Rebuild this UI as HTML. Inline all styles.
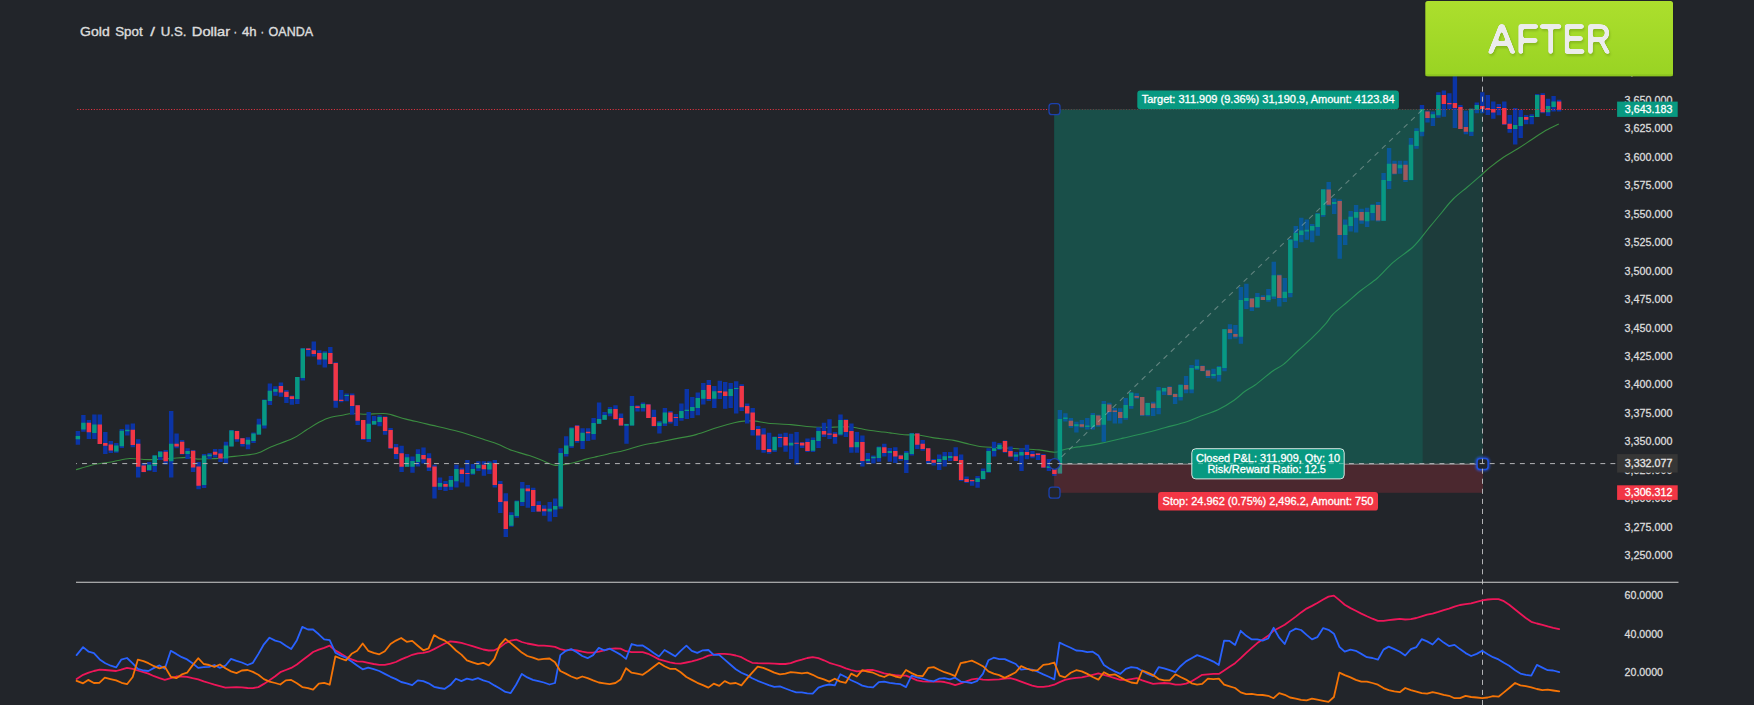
<!DOCTYPE html>
<html lang="en"><head><meta charset="utf-8"><title>Gold Spot / U.S. Dollar</title>
<style>html,body{margin:0;padding:0;background:#22252a;}body{width:1754px;height:705px;overflow:hidden;font-family:"Liberation Sans",sans-serif;}</style>
</head><body>
<svg width="1754" height="705" viewBox="0 0 1754 705" style="display:block">
<defs>
<linearGradient id="ag" x1="0" y1="0" x2="0" y2="1"><stop offset="0" stop-color="#acdf2d"/><stop offset="1" stop-color="#99d323"/></linearGradient>
<filter id="sh" x="-10%" y="-10%" width="120%" height="130%"><feGaussianBlur stdDeviation="1.2"/></filter>
<filter id="glow" x="-50%" y="-50%" width="200%" height="200%"><feGaussianBlur stdDeviation="1.3"/></filter>
<filter id="rnd" x="-5%" y="-15%" width="112%" height="135%" color-interpolation-filters="sRGB"><feGaussianBlur in="SourceGraphic" stdDeviation="1.25"/><feColorMatrix type="matrix" values="0 0 0 0 0.925  0 0 0 0 0.925  0 0 0 0 0.925  0 0 0 5 -2" result="r"/><feOffset in="r" dx="1" dy="2.2"/><feGaussianBlur stdDeviation="1.2"/><feColorMatrix type="matrix" values="0 0 0 0 0.37  0 0 0 0 0.54  0 0 0 0 0.06  0 0 0 0.4 0" result="s"/><feMerge><feMergeNode in="s"/><feMergeNode in="r"/></feMerge></filter>
<clipPath id="cl"><rect x="76" y="0" width="1541" height="705"/></clipPath>
<clipPath id="cl2"><rect x="1192.3" y="449" width="151.4" height="29.6"/></clipPath>
</defs>
<rect width="1754" height="705" fill="#22252a"/>
<text y="36.2" font-family="Liberation Sans, sans-serif" font-size="13" fill="#dcdcdc" stroke="#dcdcdc" stroke-width="0.4"><tspan x="80.1" textLength="29.6" lengthAdjust="spacingAndGlyphs">Gold</tspan> <tspan x="115.2" textLength="27.4" lengthAdjust="spacingAndGlyphs">Spot</tspan> <tspan x="150.3" textLength="4.7" lengthAdjust="spacingAndGlyphs">/</tspan> <tspan x="160.7" textLength="25.7" lengthAdjust="spacingAndGlyphs">U.S.</tspan> <tspan x="191.8" textLength="38.3" lengthAdjust="spacingAndGlyphs">Dollar</tspan> <tspan x="233.5" textLength="3.6" lengthAdjust="spacingAndGlyphs">·</tspan> <tspan x="241.9" textLength="14.6" lengthAdjust="spacingAndGlyphs">4h</tspan> <tspan x="260.5" textLength="3.6" lengthAdjust="spacingAndGlyphs">·</tspan> <tspan x="268.6" textLength="44.5" lengthAdjust="spacingAndGlyphs">OANDA</tspan></text>
<g font-family="Liberation Sans, sans-serif" font-size="11.4" fill="#dcdcdc" stroke="#dcdcdc" stroke-width="0.3"><text x="1624.6" y="103.8" textLength="47.8" lengthAdjust="spacingAndGlyphs">3,650.000</text><text x="1624.6" y="132.3" textLength="47.8" lengthAdjust="spacingAndGlyphs">3,625.000</text><text x="1624.6" y="160.8" textLength="47.8" lengthAdjust="spacingAndGlyphs">3,600.000</text><text x="1624.6" y="189.2" textLength="47.8" lengthAdjust="spacingAndGlyphs">3,575.000</text><text x="1624.6" y="217.7" textLength="47.8" lengthAdjust="spacingAndGlyphs">3,550.000</text><text x="1624.6" y="246.2" textLength="47.8" lengthAdjust="spacingAndGlyphs">3,525.000</text><text x="1624.6" y="274.6" textLength="47.8" lengthAdjust="spacingAndGlyphs">3,500.000</text><text x="1624.6" y="303.1" textLength="47.8" lengthAdjust="spacingAndGlyphs">3,475.000</text><text x="1624.6" y="331.5" textLength="47.8" lengthAdjust="spacingAndGlyphs">3,450.000</text><text x="1624.6" y="360" textLength="47.8" lengthAdjust="spacingAndGlyphs">3,425.000</text><text x="1624.6" y="388.4" textLength="47.8" lengthAdjust="spacingAndGlyphs">3,400.000</text><text x="1624.6" y="416.9" textLength="47.8" lengthAdjust="spacingAndGlyphs">3,375.000</text><text x="1624.6" y="445.4" textLength="47.8" lengthAdjust="spacingAndGlyphs">3,350.000</text><text x="1624.6" y="473.8" textLength="47.8" lengthAdjust="spacingAndGlyphs">3,325.000</text><text x="1624.6" y="502.3" textLength="47.8" lengthAdjust="spacingAndGlyphs">3,300.000</text><text x="1624.6" y="530.7" textLength="47.8" lengthAdjust="spacingAndGlyphs">3,275.000</text><text x="1624.6" y="559.2" textLength="47.8" lengthAdjust="spacingAndGlyphs">3,250.000</text></g><g font-family="Liberation Sans, sans-serif" font-size="11.4" fill="#dcdcdc" stroke="#dcdcdc" stroke-width="0.3"><text x="1624.6" y="599.3" textLength="38.4" lengthAdjust="spacingAndGlyphs">60.0000</text><text x="1624.6" y="637.8" textLength="38.4" lengthAdjust="spacingAndGlyphs">40.0000</text><text x="1624.6" y="676.2" textLength="38.4" lengthAdjust="spacingAndGlyphs">20.0000</text></g>
<!-- moving average + candles -->
<path d="M76 469.8C79 468.9 88 465.9 94.1 464.5C100.2 463.1 106.7 462.7 112.6 461.7C118.5 460.7 124.4 458.9 129.6 458.5C134.8 458.1 139.6 459.3 143.8 459.5C148.1 459.7 150.4 459.7 155.1 459.5C159.8 459.3 166.7 458.8 172.1 458.4C177.5 458 183.4 457.3 187.7 457.4C192 457.5 194.6 458.9 197.7 459.1C200.8 459.3 202.7 458.9 206.2 458.8C209.7 458.7 215.6 458.6 218.9 458.4C222.2 458.2 222.4 457.8 226 457.4C229.6 456.9 236.2 456.2 240.2 455.7C244.2 455.2 246.9 455.1 250 454.6C253.1 454.1 254.9 454.1 258.5 452.8C262.1 451.5 265.6 449.2 271.3 446.8C277 444.4 286.7 441.4 292.6 438.6C298.5 435.8 302 432.7 306.7 429.8C311.4 426.9 317.1 423.3 320.9 421.3C324.7 419.3 325.8 418.7 329.4 417.7C332.9 416.7 338.4 415.9 342.2 415.2C346 414.5 348.6 413.7 352.1 413.5C355.7 413.3 358.3 414.2 363.5 414.2C368.7 414.2 378.6 413.4 383.3 413.5C388 413.6 388 414 391.8 414.9C395.6 415.8 400.1 417.6 406 419.1C411.9 420.6 418.6 422 427.3 424.1C436 426.2 448.7 428.9 458.4 431.5C468.1 434.1 478.7 437.9 485.3 440C491.9 442.1 493.6 442.5 498.1 444.3C502.6 446.1 507.1 448.7 512.3 450.6C517.5 452.5 524.7 454.1 529.3 455.6C533.9 457.1 535.9 457.8 540 459.4C544.1 461 550.1 464.3 554.2 465.1C558.3 465.9 561.2 464.9 564.8 464.4C568.3 463.9 572 463.2 575.5 462.3C579 461.4 582.5 460.1 586 459.1C589.5 458.2 593.2 457.4 596.7 456.6C600.2 455.8 602.6 455.3 607.3 454.2C612 453.1 619.3 451.7 625.1 450.2C630.9 448.7 636.7 446.5 642.1 445.2C647.5 443.9 652.2 443.4 657.7 442.4C663.2 441.3 668.4 440.2 674.8 438.9C681.2 437.6 688.9 436.5 696 434.6C703.1 432.7 710.9 429.5 717.3 427.5C723.7 425.5 729.7 423.9 734.2 422.8C738.7 421.7 740.6 421.4 744.1 421.1C747.6 420.8 751.5 420.8 755.5 421.1C759.5 421.5 762.3 422.6 768.2 423.2C774.1 423.8 783.8 424 790.9 424.6C798 425.2 804.6 426.2 810.8 426.7C816.9 427.2 823.3 427.3 827.8 427.4C832.3 427.4 834.4 427.1 837.7 427C841 426.9 844.6 426.6 847.7 426.7C850.8 426.8 852.7 427.1 856.2 427.7C859.7 428.3 864.4 429.6 868.9 430.3C873.4 431 879.6 431.6 883.1 432C886.6 432.4 886.5 432.4 890 432.9C893.5 433.4 899.5 434.4 904.2 434.8C908.9 435.2 913.7 434.5 918.4 435C923.1 435.5 926.7 436.7 932.6 437.6C938.5 438.5 947.7 439.3 953.8 440.4C959.9 441.5 964.7 443.2 969.4 444.3C974.1 445.4 977.7 446.3 982.2 446.8C986.7 447.3 990.5 447.2 996.4 447.5C1002.3 447.8 1010.6 448.3 1017.7 448.7C1024.8 449.1 1032.8 449.3 1038.9 449.9C1045 450.5 1050.5 452.2 1054.5 452.2C1058.5 452.2 1059.7 450.7 1063 449.9C1066.3 449.1 1071.5 448.1 1074.4 447.5C1077.3 446.9 1077.9 447 1080.5 446.6C1083.1 446.2 1086.5 446 1090 445.4C1093.5 444.8 1096.2 444.3 1101.7 443.1C1107.2 441.9 1115.9 439.8 1123 438.1C1130.1 436.5 1137.2 435 1144.3 433.2C1151.4 431.4 1158.5 429.4 1165.6 427.5C1172.7 425.6 1180.9 423.7 1186.8 421.8C1192.7 419.9 1195.8 418.1 1201 416.1C1206.2 414.1 1212.5 412.4 1218 409.8C1223.5 407.2 1229.2 403.6 1233.7 400.5C1238.2 397.4 1241.4 393.9 1245 391.3C1248.6 388.7 1250.6 388.3 1255.1 385C1259.6 381.7 1267.4 374.9 1272.1 371.5C1276.8 368.1 1279.2 367.8 1283.5 364.4C1287.8 361 1293 355.4 1297.7 351C1302.4 346.6 1307.1 342.8 1311.8 338.2C1316.5 333.6 1322.5 327.3 1326 323.3C1329.5 319.3 1329.5 317.7 1333.1 314.1C1336.6 310.6 1342.6 306 1347.3 302C1352 298 1356.5 294 1361.5 290C1366.5 286 1372.2 282.6 1377.5 278C1382.8 273.4 1387.1 267.6 1393.1 262.4C1399.1 257.1 1407.7 252 1413.5 246.5C1419.3 241 1423 235.2 1427.7 229.5C1432.4 223.8 1437.5 217.6 1441.8 212.5C1446 207.4 1448.9 203.2 1453.2 199C1457.5 194.8 1462.4 191.2 1467.4 187C1472.4 182.8 1479.3 176.7 1483 173.5C1486.7 170.3 1485.9 170.6 1489.3 167.9C1492.7 165.2 1498.8 160.5 1503.5 157.3C1508.2 154.1 1513 151.8 1517.7 148.8C1522.4 145.8 1527.1 142.6 1531.8 139.5C1536.5 136.4 1541.5 132.9 1546 130.3C1550.5 127.7 1556.7 125 1558.8 123.9" fill="none" stroke="#3b8c40" stroke-width="1.1"/>
<path d="M75.7 430.9h4.4v13.8h-4.4zM81.2 415.1h4.4v16.7h-4.4zM86.7 420h4.4v19h-4.4zM92.2 414.4h4.4v24.5h-4.4zM97.6 414.4h4.4v29.5h-4.4zM103.1 431.9h4.4v22h-4.4zM108.6 441.1h4.4v11.8h-4.4zM114.1 442.9h4.4v9.9h-4.4zM119.6 429h4.4v19.1h-4.4zM125.1 424.4h4.4v11.1h-4.4zM130.6 423.4h4.4v23.8h-4.4zM136 439.3h4.4v38.3h-4.4zM141.5 463.1h4.4v9.2h-4.4zM147 462.1h4.4v8.8h-4.4zM152.5 455.3h4.4v16.7h-4.4zM158 451h4.4v8.9h-4.4zM163.5 450h4.4v14.5h-4.4zM169 410.9h4.4v66.7h-4.4zM174.4 433.6h4.4v14.6h-4.4zM179.9 440.1h4.4v14.5h-4.4zM185.4 448.2h4.4v10.9h-4.4zM190.9 450h4.4v22h-4.4zM196.4 462.1h4.4v27.2h-4.4zM201.9 453.9h4.4v34h-4.4zM207.4 452.9h4.4v6.2h-4.4zM212.9 448.9h4.4v8.5h-4.4zM218.3 448.9h4.4v13h-4.4zM223.8 441.8h4.4v22h-4.4zM229.3 430h4.4v16.3h-4.4zM234.8 430.7h4.4v11.1h-4.4zM240.3 438h4.4v8.4h-4.4zM245.8 437.3h4.4v11.9h-4.4zM251.3 432.6h4.4v10.4h-4.4zM256.7 418.8h4.4v15.9h-4.4zM262.2 399.5h4.4v29.1h-4.4zM267.7 383.5h4.4v21.4h-4.4zM273.2 386.3h4.4v9.4h-4.4zM278.7 382.5h4.4v14.2h-4.4zM284.2 390h4.4v13h-4.4zM289.7 395.6h4.4v9.2h-4.4zM295.1 377.1h4.4v27h-4.4zM300.6 348h4.4v32.6h-4.4zM306.1 348h4.4v8.5h-4.4zM311.6 341.4h4.4v15.2h-4.4zM317.1 350.3h4.4v14.5h-4.4zM322.6 351.3h4.4v16.3h-4.4zM328.1 347.1h4.4v17h-4.4zM333.5 362.2h4.4v45.5h-4.4zM339 390h4.4v12.3h-4.4zM344.5 393.4h4.4v7.9h-4.4zM350 393.4h4.4v21.4h-4.4zM355.5 404.9h4.4v20.1h-4.4zM361 419.9h4.4v20.1h-4.4zM366.5 412.1h4.4v29.8h-4.4zM371.9 415.9h4.4v8.9h-4.4zM377.4 415.3h4.4v10.9h-4.4zM382.9 416.3h4.4v18.4h-4.4zM388.4 428.1h4.4v20.9h-4.4zM393.9 444h4.4v14.9h-4.4zM399.4 445.7h4.4v26.2h-4.4zM404.9 453.9h4.4v12.8h-4.4zM410.3 456.5h4.4v16.3h-4.4zM415.8 449.2h4.4v17.2h-4.4zM421.3 447.5h4.4v16h-4.4zM426.8 453.2h4.4v17.7h-4.4zM432.3 464.8h4.4v33.6h-4.4zM437.8 477.6h4.4v12.5h-4.4zM443.3 481.1h4.4v9.9h-4.4zM448.7 475.9h4.4v14.2h-4.4zM454.2 464.8h4.4v22.7h-4.4zM459.7 467.7h4.4v14.9h-4.4zM465.2 460.1h4.4v26.4h-4.4zM470.7 464.1h4.4v10.6h-4.4zM476.2 461.3h4.4v9.6h-4.4zM481.7 461.3h4.4v14.5h-4.4zM487.2 461.3h4.4v12.8h-4.4zM492.6 460.1h4.4v27.4h-4.4zM498.1 481.1h4.4v31.9h-4.4zM503.6 493.2h4.4v43.7h-4.4zM509.1 512.3h4.4v14.5h-4.4zM514.6 500.6h4.4v17.2h-4.4zM520.1 482.1h4.4v23.8h-4.4zM525.6 485.1h4.4v22.6h-4.4zM531 487.8h4.4v24.1h-4.4zM536.5 501.3h4.4v10.4h-4.4zM542 505.2h4.4v10.6h-4.4zM547.5 502.1h4.4v19.4h-4.4zM553 498.6h4.4v18.3h-4.4zM558.5 448.2h4.4v60.6h-4.4zM564 436.3h4.4v20.3h-4.4zM569.4 427.2h4.4v20.9h-4.4zM574.9 425.1h4.4v17.7h-4.4zM580.4 428.2h4.4v20.9h-4.4zM585.9 428.2h4.4v12.8h-4.4zM591.4 418h4.4v21.8h-4.4zM596.9 402.4h4.4v21.6h-4.4zM602.4 411.9h4.4v8.2h-4.4zM607.8 407h4.4v9.2h-4.4zM613.3 405.2h4.4v14.9h-4.4zM618.8 413.6h4.4v12.1h-4.4zM624.3 423.7h4.4v20.1h-4.4zM629.8 396h4.4v29.6h-4.4zM635.3 405.2h4.4v6.4h-4.4zM640.8 402.4h4.4v9.2h-4.4zM646.2 404.1h4.4v13.9h-4.4zM651.7 409.8h4.4v16.6h-4.4zM657.2 421.1h4.4v12.5h-4.4zM662.7 407.9h4.4v18.2h-4.4zM668.2 410.9h4.4v12.6h-4.4zM673.7 414h4.4v12.1h-4.4zM679.2 403.4h4.4v17.4h-4.4zM684.6 388.9h4.4v30.1h-4.4zM690.1 397h4.4v21h-4.4zM695.6 392.5h4.4v22.7h-4.4zM701.1 383.1h4.4v21.3h-4.4zM706.6 380h4.4v20.9h-4.4zM712.1 386h4.4v22h-4.4zM717.6 380.7h4.4v18.2h-4.4zM723 382.1h4.4v26.7h-4.4zM728.5 383.1h4.4v24.8h-4.4zM734 381.3h4.4v32.2h-4.4zM739.5 384.2h4.4v26.7h-4.4zM745 403.6h4.4v20h-4.4zM750.5 408h4.4v27.5h-4.4zM756 426h4.4v23.8h-4.4zM761.4 428.2h4.4v24.5h-4.4zM766.9 432.8h4.4v20.9h-4.4zM772.4 436.4h4.4v15.5h-4.4zM777.9 433.8h4.4v13.5h-4.4zM783.4 432.8h4.4v19h-4.4zM788.9 433.8h4.4v25.2h-4.4zM794.4 432h4.4v32.6h-4.4zM799.9 442.1h4.4v6h-4.4zM805.3 438.4h4.4v13.5h-4.4zM810.8 437.4h4.4v14.5h-4.4zM816.3 427.2h4.4v20.9h-4.4zM821.8 422.8h4.4v14.2h-4.4zM827.3 419.2h4.4v19.9h-4.4zM832.8 432h4.4v11.8h-4.4zM838.3 414.4h4.4v21.1h-4.4zM843.7 419.2h4.4v17.9h-4.4zM849.2 423.6h4.4v29.1h-4.4zM854.7 432h4.4v20.7h-4.4zM860.2 435.5h4.4v30.9h-4.4zM865.7 453h4.4v9.9h-4.4zM871.2 455.5h4.4v8.1h-4.4zM876.7 446.6h4.4v15.2h-4.4zM882.1 443.8h4.4v12.8h-4.4zM887.6 448h4.4v13.8h-4.4zM893.1 447.3h4.4v15.6h-4.4zM898.6 454.7h4.4v6.1h-4.4zM904.1 451.1h4.4v22h-4.4zM909.6 432.9h4.4v22.7h-4.4zM915.1 432.9h4.4v16h-4.4zM920.5 440.1h4.4v10.6h-4.4zM926 448.2h4.4v15.6h-4.4zM931.5 459.1h4.4v6.5h-4.4zM937 454.6h4.4v15.3h-4.4zM942.5 452.1h4.4v14.3h-4.4zM948 452.1h4.4v8.9h-4.4zM953.5 447.2h4.4v13.8h-4.4zM958.9 454.6h4.4v26.5h-4.4zM964.4 476.6h4.4v6.4h-4.4zM969.9 479.4h4.4v6.4h-4.4zM975.4 475.9h4.4v11.8h-4.4zM980.9 468.4h4.4v11.1h-4.4zM986.4 448.2h4.4v24.5h-4.4zM991.9 441.8h4.4v14.6h-4.4zM997.3 443h4.4v7h-4.4zM1002.8 440.4h4.4v12.3h-4.4zM1008.3 446.4h4.4v10.8h-4.4zM1013.8 452.1h4.4v8.9h-4.4zM1019.3 448.2h4.4v22.7h-4.4zM1024.8 444.7h4.4v14.5h-4.4zM1030.3 451.1h4.4v7.1h-4.4zM1035.8 452.9h4.4v7.1h-4.4zM1041.2 453.9h4.4v14.2h-4.4zM1046.7 459.1h4.4v11.8h-4.4zM1052.2 462.4h4.4v13.5h-4.4zM1057.7 410h4.4v63.5h-4.4zM1063.2 413.3h4.4v8.2h-4.4zM1068.7 418h4.4v9.8h-4.4zM1074.2 421.8h4.4v10.6h-4.4zM1079.6 420.1h4.4v7.7h-4.4zM1085.1 418h4.4v11.6h-4.4zM1090.6 412.9h4.4v16.7h-4.4zM1096.1 414.7h4.4v12.1h-4.4zM1101.6 401h4.4v40.7h-4.4zM1107.1 402.7h4.4v18h-4.4zM1112.6 407.9h4.4v15.6h-4.4zM1118 408.3h4.4v15.2h-4.4zM1123.5 398.1h4.4v21.6h-4.4zM1129 392.3h4.4v16.5h-4.4zM1134.5 393.2h4.4v5.5h-4.4zM1140 397h4.4v19.1h-4.4zM1145.5 402.7h4.4v13.5h-4.4zM1151 401.7h4.4v14.2h-4.4zM1156.4 387.1h4.4v27.2h-4.4zM1161.9 387.8h4.4v7.1h-4.4zM1167.4 386.3h4.4v9.2h-4.4zM1172.9 393.4h4.4v10.6h-4.4zM1178.4 384.2h4.4v16.3h-4.4zM1183.9 376.1h4.4v17.1h-4.4zM1189.4 365.1h4.4v28.1h-4.4zM1194.8 359.5h4.4v10.4h-4.4zM1200.3 365.4h4.4v5.8h-4.4zM1205.8 369.8h4.4v8.1h-4.4zM1211.3 368.7h4.4v9.9h-4.4zM1216.8 366.1h4.4v15.3h-4.4zM1222.3 329h4.4v42.3h-4.4zM1227.8 324.3h4.4v14.9h-4.4zM1233.2 325.1h4.4v13.5h-4.4zM1238.7 287.1h4.4v56.7h-4.4zM1244.2 283.7h4.4v25.4h-4.4zM1249.7 297.9h4.4v13.1h-4.4zM1255.2 293h4.4v15h-4.4zM1260.7 295.2h4.4v4.7h-4.4zM1266.2 289h4.4v12.7h-4.4zM1271.6 261.7h4.4v37.3h-4.4zM1277.1 274.5h4.4v32.1h-4.4zM1282.6 278h4.4v24h-4.4zM1288.1 239h4.4v58.2h-4.4zM1293.6 226h4.4v22h-4.4zM1299.1 217.7h4.4v24.5h-4.4zM1304.6 219.4h4.4v20.3h-4.4zM1310 224.1h4.4v18.2h-4.4zM1315.5 213h4.4v22.8h-4.4zM1321 189.1h4.4v27.7h-4.4zM1326.5 182h4.4v23.7h-4.4zM1332 198.6h4.4v15.3h-4.4zM1337.5 199.4h4.4v59.4h-4.4zM1343 219.4h4.4v25.7h-4.4zM1348.5 211.1h4.4v20.4h-4.4zM1353.9 205h4.4v27.4h-4.4zM1359.4 208.8h4.4v15h-4.4zM1364.9 207.8h4.4v19.1h-4.4zM1370.4 204.3h4.4v16.3h-4.4zM1375.9 202.1h4.4v19.4h-4.4zM1381.4 173h4.4v47.7h-4.4zM1386.9 147.9h4.4v41.1h-4.4zM1392.3 160.7h4.4v13.9h-4.4zM1397.8 160.7h4.4v13h-4.4zM1403.3 160.7h4.4v21.3h-4.4zM1408.8 138.1h4.4v42.1h-4.4zM1414.3 128.2h4.4v20.6h-4.4zM1419.8 105.1h4.4v31.2h-4.4zM1425.3 110.7h4.4v11.8h-4.4zM1430.7 111.6h4.4v14.5h-4.4zM1436.2 92.3h4.4v25.5h-4.4zM1441.7 90.6h4.4v26.2h-4.4zM1447.2 93.2h4.4v15.9h-4.4zM1452.7 70.7h4.4v57.2h-4.4zM1458.2 105.1h4.4v23.8h-4.4zM1463.7 110.7h4.4v23.5h-4.4zM1469.1 108.8h4.4v27.2h-4.4zM1474.6 102.4h4.4v10.9h-4.4zM1480.1 92.3h4.4v21h-4.4zM1485.6 95.1h4.4v20h-4.4zM1491.1 101.5h4.4v17.2h-4.4zM1496.6 104.1h4.4v11.1h-4.4zM1502.1 101.5h4.4v23.5h-4.4zM1507.5 115.1h4.4v17.6h-4.4zM1513 107.9h4.4v36.6h-4.4zM1518.5 109.8h4.4v28.1h-4.4zM1524 115.1h4.4v9.1h-4.4zM1529.5 114.3h4.4v9.9h-4.4zM1535 94.1h4.4v22.7h-4.4zM1540.5 93.2h4.4v20.1h-4.4zM1545.9 98.8h4.4v17.3h-4.4zM1551.4 96h4.4v15.6h-4.4zM1556.9 99.8h4.4v11.8h-4.4z" fill="#0b34a6"/>
<path d="M75.7 436.1h4.4v3.1h-4.4zM81.2 422.7h4.4v6.7h-4.4zM92.2 424.4h4.4v8.7h-4.4zM114.1 445.4h4.4v6h-4.4zM119.6 430.7h4.4v15.6h-4.4zM125.1 429.8h4.4v1.4h-4.4zM147 464.8h4.4v5.1h-4.4zM152.5 455.6h4.4v10.4h-4.4zM158 451.7h4.4v5.2h-4.4zM169 443.7h4.4v17.6h-4.4zM185.4 451h4.4v3.1h-4.4zM201.9 455.6h4.4v29.5h-4.4zM207.4 454.6h4.4v1.7h-4.4zM223.8 445.4h4.4v13h-4.4zM229.3 430.5h4.4v15.9h-4.4zM245.8 439.8h4.4v4.8h-4.4zM251.3 433.6h4.4v7.5h-4.4zM256.7 424.4h4.4v10.1h-4.4zM262.2 400h4.4v25.4h-4.4zM267.7 390.7h4.4v10.2h-4.4zM273.2 388.9h4.4v2.8h-4.4zM295.1 377.1h4.4v22h-4.4zM300.6 348.5h4.4v29.5h-4.4zM322.6 352.7h4.4v6.8h-4.4zM344.5 394.9h4.4v1.1h-4.4zM366.5 423.7h4.4v15.3h-4.4zM371.9 420.9h4.4v3.5h-4.4zM377.4 417h4.4v5h-4.4zM404.9 457.2h4.4v9.5h-4.4zM410.3 461h4.4v5.7h-4.4zM415.8 453.9h4.4v8.1h-4.4zM437.8 483h4.4v3.8h-4.4zM448.7 480.1h4.4v6.7h-4.4zM454.2 469.1h4.4v12.1h-4.4zM470.7 469.1h4.4v4.7h-4.4zM476.2 464.8h4.4v3.5h-4.4zM487.2 462.7h4.4v6.7h-4.4zM509.1 514.9h4.4v10.9h-4.4zM514.6 501.3h4.4v14.6h-4.4zM520.1 488.5h4.4v13.5h-4.4zM547.5 508.8h4.4v2.6h-4.4zM553 506h4.4v3.5h-4.4zM558.5 453h4.4v53.6h-4.4zM564 445.5h4.4v8.5h-4.4zM569.4 428.2h4.4v18h-4.4zM580.4 432.8h4.4v8.2h-4.4zM591.4 423h4.4v10.9h-4.4zM596.9 419h4.4v4.7h-4.4zM602.4 415h4.4v4.7h-4.4zM607.8 409.1h4.4v4.5h-4.4zM624.3 424h4.4v1.7h-4.4zM629.8 406h4.4v19.4h-4.4zM640.8 404.1h4.4v3.8h-4.4zM657.2 422.6h4.4v3.5h-4.4zM662.7 412.6h4.4v10.9h-4.4zM679.2 410.9h4.4v7.1h-4.4zM684.6 409.8h4.4v1.1h-4.4zM690.1 407h4.4v4h-4.4zM695.6 398h4.4v9.9h-4.4zM701.1 389.9h4.4v8.9h-4.4zM712.1 391.3h4.4v7.5h-4.4zM728.5 388.9h4.4v7.1h-4.4zM734 388h4.4v0.9h-4.4zM772.4 437h4.4v13.2h-4.4zM788.9 442.8h4.4v2.8h-4.4zM810.8 439.9h4.4v10.9h-4.4zM816.3 431h4.4v9.9h-4.4zM838.3 419.9h4.4v14.6h-4.4zM854.7 442.1h4.4v5.2h-4.4zM865.7 459.1h4.4v2h-4.4zM871.2 456.8h4.4v1.4h-4.4zM876.7 447.3h4.4v10.6h-4.4zM887.6 450.9h4.4v2.1h-4.4zM904.1 452.8h4.4v7.2h-4.4zM909.6 433.6h4.4v20.3h-4.4zM937 458.9h4.4v3.1h-4.4zM942.5 456.3h4.4v3.7h-4.4zM948 456h4.4v2.1h-4.4zM975.4 478.3h4.4v3.7h-4.4zM980.9 470.9h4.4v8.2h-4.4zM986.4 451.1h4.4v21h-4.4zM991.9 448.2h4.4v2.8h-4.4zM997.3 444.7h4.4v4.3h-4.4zM1013.8 454.6h4.4v2.1h-4.4zM1019.3 452.1h4.4v3.5h-4.4zM1046.7 466.2h4.4v1.8h-4.4zM1057.7 419h4.4v54.6h-4.4zM1063.2 417.6h4.4v1.4h-4.4zM1074.2 424.2h4.4v2.1h-4.4zM1085.1 425.4h4.4v1.7h-4.4zM1090.6 415.1h4.4v11.9h-4.4zM1101.6 404.1h4.4v20.6h-4.4zM1123.5 405.1h4.4v12.9h-4.4zM1129 392.7h4.4v13.2h-4.4zM1145.5 402.9h4.4v12.2h-4.4zM1156.4 390.6h4.4v17.3h-4.4zM1161.9 388h4.4v3.5h-4.4zM1178.4 384.9h4.4v12.1h-4.4zM1189.4 368h4.4v21.6h-4.4zM1194.8 366.1h4.4v2.6h-4.4zM1211.3 374.1h4.4v2h-4.4zM1216.8 367h4.4v8.1h-4.4zM1222.3 329.3h4.4v38.7h-4.4zM1238.7 299.9h4.4v36.9h-4.4zM1244.2 298h4.4v2.9h-4.4zM1255.2 297.1h4.4v10.2h-4.4zM1266.2 295.2h4.4v4.7h-4.4zM1271.6 275.2h4.4v21.3h-4.4zM1282.6 291.8h4.4v6.2h-4.4zM1288.1 239.7h4.4v53.2h-4.4zM1293.6 232.9h4.4v7.9h-4.4zM1299.1 230.5h4.4v4.5h-4.4zM1304.6 229.8h4.4v1.7h-4.4zM1310 226h4.4v4.5h-4.4zM1315.5 213.8h4.4v13.2h-4.4zM1321 189.4h4.4v25.5h-4.4zM1332 202.1h4.4v1.8h-4.4zM1343 224.8h4.4v10.2h-4.4zM1348.5 216.7h4.4v9.2h-4.4zM1353.9 212.1h4.4v5.7h-4.4zM1364.9 212.1h4.4v9.2h-4.4zM1370.4 205h4.4v8.1h-4.4zM1381.4 180.1h4.4v40.6h-4.4zM1386.9 163.8h4.4v17.2h-4.4zM1397.8 164.7h4.4v3.5h-4.4zM1408.8 144.8h4.4v35.2h-4.4zM1414.3 131h4.4v14.9h-4.4zM1419.8 109h4.4v22.7h-4.4zM1430.7 114.3h4.4v3.7h-4.4zM1436.2 94.9h4.4v20.3h-4.4zM1469.1 108.8h4.4v23h-4.4zM1474.6 105.1h4.4v4.7h-4.4zM1513 125.1h4.4v3.8h-4.4zM1518.5 117.1h4.4v8.9h-4.4zM1529.5 116.1h4.4v1h-4.4zM1535 94.9h4.4v22h-4.4zM1545.9 105.9h4.4v6.4h-4.4zM1551.4 101.5h4.4v5.4h-4.4z" fill="#089981"/>
<path d="M86.7 422.7h4.4v9.5h-4.4zM97.6 424.4h4.4v19.6h-4.4zM103.1 442.9h4.4v2.8h-4.4zM108.6 444.4h4.4v6h-4.4zM130.6 429.8h4.4v15.2h-4.4zM136 443.7h4.4v23h-4.4zM141.5 465.6h4.4v6.4h-4.4zM163.5 451.7h4.4v9.5h-4.4zM174.4 443.7h4.4v2.7h-4.4zM179.9 441.8h4.4v12.1h-4.4zM190.9 450.7h4.4v16.9h-4.4zM196.4 466.6h4.4v19.1h-4.4zM212.9 451.7h4.4v3.1h-4.4zM218.3 453.6h4.4v4.8h-4.4zM234.8 431h4.4v8.2h-4.4zM240.3 438.3h4.4v5.7h-4.4zM278.7 386.1h4.4v6.4h-4.4zM284.2 391.7h4.4v5.2h-4.4zM289.7 396.3h4.4v2.8h-4.4zM306.1 348.5h4.4v1.4h-4.4zM311.6 350.2h4.4v3.7h-4.4zM317.1 353h4.4v6.5h-4.4zM328.1 353h4.4v11.1h-4.4zM333.5 363.1h4.4v37.6h-4.4zM339 399.8h4.4v1.1h-4.4zM350 395.3h4.4v10.6h-4.4zM355.5 405.2h4.4v15.6h-4.4zM361 420.1h4.4v18.9h-4.4zM382.9 417h4.4v13.9h-4.4zM388.4 430.1h4.4v18.2h-4.4zM393.9 447.2h4.4v6.7h-4.4zM399.4 453.2h4.4v13.5h-4.4zM421.3 454.9h4.4v4.3h-4.4zM426.8 458.2h4.4v9.2h-4.4zM432.3 466.5h4.4v20.3h-4.4zM443.3 484h4.4v2.8h-4.4zM459.7 469.4h4.4v4.7h-4.4zM465.2 472.9h4.4v1.1h-4.4zM481.7 464.8h4.4v4.5h-4.4zM492.6 463h4.4v22.1h-4.4zM498.1 484h4.4v18h-4.4zM503.6 501.3h4.4v27.7h-4.4zM525.6 488.5h4.4v2.8h-4.4zM531 490.1h4.4v15.9h-4.4zM536.5 505h4.4v6.4h-4.4zM542 508.8h4.4v2.4h-4.4zM574.9 425.7h4.4v15.3h-4.4zM585.9 431.8h4.4v1.4h-4.4zM613.3 409.1h4.4v9.9h-4.4zM618.8 418h4.4v7.4h-4.4zM635.3 406.2h4.4v1.7h-4.4zM646.2 404.4h4.4v13.6h-4.4zM651.7 416.9h4.4v9.2h-4.4zM668.2 412.6h4.4v9.2h-4.4zM673.7 416.9h4.4v1.1h-4.4zM706.6 385h4.4v13.9h-4.4zM717.6 391.1h4.4v1.7h-4.4zM723 391.6h4.4v4.4h-4.4zM739.5 385.9h4.4v21.3h-4.4zM745 405.9h4.4v7.7h-4.4zM750.5 412.6h4.4v17.4h-4.4zM756 428.9h4.4v6.7h-4.4zM761.4 434.5h4.4v15.6h-4.4zM766.9 449h4.4v3h-4.4zM777.9 437h4.4v1.1h-4.4zM783.4 437.1h4.4v8.5h-4.4zM794.4 442.8h4.4v1h-4.4zM799.9 442.8h4.4v2.8h-4.4zM805.3 442.1h4.4v8.8h-4.4zM821.8 431h4.4v3.5h-4.4zM827.3 433.4h4.4v1.4h-4.4zM832.8 433.8h4.4v3.3h-4.4zM843.7 419.9h4.4v12.1h-4.4zM849.2 431h4.4v16.3h-4.4zM860.2 442.1h4.4v19h-4.4zM882.1 447.3h4.4v5.7h-4.4zM893.1 450.9h4.4v5.7h-4.4zM898.6 455.5h4.4v3.5h-4.4zM915.1 433.6h4.4v11.1h-4.4zM920.5 443.7h4.4v5.2h-4.4zM926 448.2h4.4v12.8h-4.4zM931.5 460h4.4v2.8h-4.4zM953.5 456.3h4.4v4.7h-4.4zM958.9 460h4.4v20.1h-4.4zM964.4 479.1h4.4v2.8h-4.4zM969.9 479.9h4.4v1.3h-4.4zM1002.8 441.1h4.4v10.9h-4.4zM1008.3 451.1h4.4v5.4h-4.4zM1024.8 452.1h4.4v2.8h-4.4zM1030.3 453.9h4.4v2.6h-4.4zM1035.8 453.6h4.4v1.4h-4.4zM1041.2 454.9h4.4v12.5h-4.4zM1052.2 467.4h4.4v6.7h-4.4zM1068.7 420.8h4.4v5.2h-4.4zM1079.6 424.2h4.4v2.6h-4.4zM1096.1 415.4h4.4v9.9h-4.4zM1107.1 404.4h4.4v7.5h-4.4zM1112.6 410.5h4.4v1.4h-4.4zM1118 411.9h4.4v6.1h-4.4zM1134.5 396h4.4v1.7h-4.4zM1140 397h4.4v18.2h-4.4zM1151 403.4h4.4v4.5h-4.4zM1167.4 387.1h4.4v7.8h-4.4zM1172.9 394.1h4.4v2.8h-4.4zM1183.9 384.9h4.4v4.7h-4.4zM1200.3 366.1h4.4v5h-4.4zM1205.8 370.5h4.4v5.5h-4.4zM1227.8 329.3h4.4v3.7h-4.4zM1233.2 333.9h4.4v2.8h-4.4zM1249.7 298.5h4.4v8.8h-4.4zM1260.7 297.1h4.4v2.8h-4.4zM1277.1 275.2h4.4v22.8h-4.4zM1326.5 189.4h4.4v15.3h-4.4zM1337.5 201.1h4.4v33.8h-4.4zM1359.4 212.1h4.4v8.5h-4.4zM1375.9 205h4.4v15.6h-4.4zM1392.3 163.8h4.4v9.9h-4.4zM1403.3 164.7h4.4v15.2h-4.4zM1425.3 111.6h4.4v6.4h-4.4zM1441.7 94.9h4.4v9.2h-4.4zM1447.2 102.9h4.4v1.4h-4.4zM1452.7 103.1h4.4v4.8h-4.4zM1458.2 106.9h4.4v22h-4.4zM1463.7 127.1h4.4v4.7h-4.4zM1480.1 105.9h4.4v3.1h-4.4zM1485.6 107.9h4.4v1.8h-4.4zM1491.1 109h4.4v3.5h-4.4zM1496.6 106.9h4.4v1.1h-4.4zM1502.1 107.9h4.4v16.3h-4.4zM1507.5 123.7h4.4v5.2h-4.4zM1524 117.1h4.4v2.6h-4.4zM1540.5 94.9h4.4v17.4h-4.4zM1556.9 101.5h4.4v8.2h-4.4z" fill="#f23645"/>
<!-- last price dotted line -->
<line x1="77.2" y1="109.5" x2="1054.1" y2="109.5" stroke="#e2323f" stroke-width="1" stroke-dasharray="1.15 1.61" stroke-dashoffset="0.00"/>
<line x1="1054.1" y1="109.5" x2="1422.7" y2="109.5" stroke="#e2323f" stroke-opacity="0.45" stroke-width="1" stroke-dasharray="1.15 1.61" stroke-dashoffset="2.62"/>
<line x1="1422.7" y1="109.5" x2="1483" y2="109.5" stroke="#e2323f" stroke-opacity="0.75" stroke-width="1" stroke-dasharray="1.15 1.61" stroke-dashoffset="1.38"/>
<line x1="1483" y1="109.5" x2="1616" y2="109.5" stroke="#e2323f" stroke-width="1" stroke-dasharray="1.15 1.61" stroke-dashoffset="0.96"/>
<!-- position tool -->
<rect x="1054.1" y="109.4" width="428.9" height="354.4" fill="#089981" fill-opacity="0.2"/>
<rect x="1054.1" y="109.4" width="368.6" height="354.4" fill="#089981" fill-opacity="0.2"/>
<rect x="1054.1" y="463.8" width="428.9" height="29" fill="#f23645" fill-opacity="0.2"/>
<line x1="1054.4" y1="463.8" x2="1422.7" y2="109.4" stroke="#b9c4c0" stroke-opacity="0.45" stroke-width="1.1" stroke-dasharray="5.2 4.9"/>
<line x1="1054.1" y1="464.2" x2="1483" y2="464.2" stroke="#8b8f90" stroke-width="1"/>
<!-- handles -->
<rect x="1049" y="103.7" width="11" height="11" rx="3" fill="#22252a" stroke="#1b41ae" stroke-width="1.3"/>
<rect x="1049" y="487.2" width="11" height="11" rx="3" fill="#22252a" stroke="#1b41ae" stroke-width="1.3"/>
<circle cx="1054.5" cy="464" r="5.4" fill="#22252a" stroke="#1b41ae" stroke-width="1.3"/>
<rect x="1476.6" y="458" width="12" height="12" rx="3.5" fill="none" stroke="#2a5cff" stroke-width="2.6" filter="url(#glow)" opacity="0.6"/>
<rect x="1477.1" y="458.5" width="11" height="11" rx="3" fill="#22252a" stroke="#2052de" stroke-width="1.5"/>
<!-- crosshair h -->
<line x1="72" y1="463.6" x2="1617" y2="463.6" stroke="#b2b3b5" stroke-width="1" stroke-dasharray="4.9 5.155" clip-path="url(#cl)"/>
<!-- labels on position -->
<rect x="1137.3" y="90.6" width="261.6" height="18.6" rx="3" fill="#089981"/>
<text x="1141.7" y="103.0" font-family="Liberation Sans, sans-serif" font-size="11" fill="#ffffff" stroke="#ffffff" stroke-width="0.3" textLength="253" lengthAdjust="spacingAndGlyphs">Target: 311.909 (9.36%) 31,190.9, Amount: 4123.84</text>
<rect x="1158.1" y="492.1" width="219.9" height="18.5" rx="3" fill="#f23645"/>
<text x="1162.6" y="504.95" font-family="Liberation Sans, sans-serif" font-size="11" fill="#ffffff" stroke="#ffffff" stroke-width="0.3" textLength="210.8" lengthAdjust="spacingAndGlyphs">Stop: 24.962 (0.75%) 2,496.2, Amount: 750</text>
<rect x="1191.8" y="448.7" width="152.4" height="30.2" rx="4" fill="#089981" stroke="#d8e4e0" stroke-width="1"/>
<line x1="72" y1="463.6" x2="1617" y2="463.6" stroke="#d8efe9" stroke-opacity="0.4" stroke-width="1" stroke-dasharray="4.9 5.155" clip-path="url(#cl2)"/>
<text x="1196" y="462.0" font-family="Liberation Sans, sans-serif" font-size="11" fill="#ffffff" stroke="#ffffff" stroke-width="0.3" textLength="144.2" lengthAdjust="spacingAndGlyphs">Closed P&amp;L: 311.909, Qty: 10</text>
<text x="1207.4" y="472.95" font-family="Liberation Sans, sans-serif" font-size="11" fill="#ffffff" stroke="#ffffff" stroke-width="0.3" textLength="118.6" lengthAdjust="spacingAndGlyphs">Risk/Reward Ratio: 12.5</text>
<!-- crosshair -->
<line x1="1482.5" y1="66.48" x2="1482.5" y2="705" stroke="#b2b3b5" stroke-width="1" stroke-dasharray="5.1 4.955"/>
<!-- price labels -->
<rect x="1617.1" y="101.6" width="60.6" height="15.3" fill="#089981"/>
<text x="1624.8" y="112.8" font-family="Liberation Sans, sans-serif" font-size="11.4" fill="#ffffff" stroke="#ffffff" stroke-width="0.3" textLength="47.6" lengthAdjust="spacingAndGlyphs">3,643.183</text>
<rect x="1617.1" y="454.1" width="60.6" height="18.5" fill="#363636"/>
<text x="1624.8" y="466.5" font-family="Liberation Sans, sans-serif" font-size="11.4" fill="#e6e6e6" stroke="#e6e6e6" stroke-width="0.3" textLength="47.6" lengthAdjust="spacingAndGlyphs">3,332.077</text>
<rect x="1617.1" y="485.3" width="60.6" height="14.6" fill="#f23645"/>
<text x="1624.8" y="496.0" font-family="Liberation Sans, sans-serif" font-size="11.4" fill="#ffffff" stroke="#ffffff" stroke-width="0.3" textLength="47.6" lengthAdjust="spacingAndGlyphs">3,306.312</text>
<!-- indicator pane -->
<line x1="76" y1="582.3" x2="1678.5" y2="582.3" stroke="#d0d0d0" stroke-width="1.1"/>
<polyline points="76.6,679.1 83.1,674.8 88.7,672.6 93.9,671 99.7,669.7 105.3,670 110.8,670.5 116.1,671 121.2,669.7 127,667.9 132.7,668.8 137.8,670.5 143.5,672.2 148.4,673.6 154.1,676.2 159.5,678.2 164.8,679.9 170.8,678.2 176.3,676.5 181.8,676.5 187.1,676.8 192.5,678.2 198.2,679.4 203.7,681.3 209.1,683 214.4,684.7 219.9,686.2 225.4,687.6 231,687.3 236.5,687.1 241.8,687.3 247.6,688 252.9,688.1 258.4,687.1 263.9,683.9 269.5,680.3 275.2,676.2 280.3,672.2 285.8,670 291.2,667.9 296.9,664.5 302.3,660.3 308,656 313.1,652 318.8,649.6 324.2,647.8 329.7,645.7 335.4,650.5 340.5,653.4 346,656.8 351.6,659.4 357.1,661.4 362.7,661.6 368.2,662.8 373.7,664 379.3,664.9 384.8,664.9 390.5,663.7 395.9,662 401.2,659.4 406.7,657.2 412.2,654.8 417.8,653.4 423.3,652.9 428.6,651.7 434.1,649.1 439.5,646.2 444.8,643.5 450.3,641.4 456,642 461.4,642.8 466.9,644.5 472.5,646.2 478,647.9 483.3,649.5 488.8,650.5 494.4,650.3 499.9,647.4 505.4,643.1 510.7,640.6 516.2,639.7 521.8,642 527.3,643.5 532.9,644.5 538.4,645.7 543.9,645.7 549.5,646.1 555,646.9 560.3,649.1 565.8,650.3 571.2,649.6 576.9,650.5 582.3,651.7 587.6,652.6 593.1,652.6 598.8,651.7 604.2,650.3 609.7,648.8 615.4,648.3 620.5,648.6 626,651.2 631.6,652.2 637.1,652.2 642.7,652.2 648.2,653.8 653.7,656.5 659,659.4 664.5,660.8 669.9,662.3 675.2,663.3 680.7,663.7 686.4,662.5 691.8,661.4 697.3,659.9 702.9,658 708.4,655.6 713.7,654.6 719.2,653.8 724.7,653.8 730.3,654.3 735.8,655.5 741.4,657.2 746.9,660.3 752.2,662.8 757.7,663.2 763.3,663.3 768.8,663.3 774.3,663.7 779.9,664 785.4,664 790.7,663.2 796.2,661.1 801.8,659.7 807.3,658 812.7,657.2 818.4,658.2 823.9,660.3 829.3,662.8 834.8,664.5 840.3,666.2 845.8,668.3 851.2,670 856.9,671.4 862.3,671 867.6,670 873.1,670 878.8,671.7 884.2,673.4 889.7,674.4 895.4,675.1 900.5,675.6 906,675.6 911.6,677.9 917.1,680.4 922.6,681.3 928.2,681.6 933.7,681.6 939,681.3 944.5,682 949.9,683.3 955.2,685.1 960.7,683.3 966.4,681.3 971.8,679.4 977.3,678.6 982.9,679.6 988.4,679.9 993.7,679.6 999.2,679.4 1004.7,678.6 1010.3,678.2 1015.8,679.6 1021.1,681.6 1026.6,683.7 1032.2,685.6 1037.7,686.8 1043.3,686.8 1048.8,686.2 1054.3,684.7 1059.6,682.1 1065,679.9 1070.7,678.6 1076.2,677.9 1081.8,677.4 1087.3,676.2 1092.7,674.8 1098.4,673.4 1103.9,674.8 1109.3,676.5 1114.8,678.2 1120.3,679.9 1125.8,679.9 1131.2,679.1 1136.9,678.2 1142.3,680.3 1147.6,682.1 1153.1,683.9 1158.8,683.3 1164.2,683 1169.7,683.3 1175.4,684.7 1180.5,684.7 1186,683.7 1191.6,681.3 1197.1,677.9 1202.2,674.8 1207.9,674.3 1213.4,673.9 1218.8,673.9 1224.1,670.5 1229.6,666.8 1235.1,663.2 1240.7,658.2 1246.2,652.9 1251.8,647.9 1257.3,643.1 1262.6,639.4 1268.1,635.8 1273.6,630.7 1279.2,627.8 1284.7,624.8 1290,620.9 1295.8,616.6 1301.1,612.4 1306.6,608.6 1312,605.9 1317.3,603 1323.2,599.5 1328.5,596.6 1333.9,595.6 1339.4,600.1 1344.7,604.7 1350.5,608.1 1355.8,610.7 1361.3,613.6 1366.9,616.3 1372.4,618.7 1377.9,620.9 1383.5,620.9 1388.7,620.1 1394.3,619.5 1399.8,618.9 1405.2,619.5 1410.9,619.2 1416.4,618 1421.7,616.3 1427.1,614.6 1432.6,613.6 1438.3,611.9 1443.7,610.1 1449,608.6 1454.5,606.7 1460,605 1465.6,604.2 1471.1,603.3 1476.7,601.8 1482.2,600.4 1487.7,599.5 1493,599.2 1498.5,599.2 1503.9,601.2 1509.2,604.7 1515.1,609.5 1520.4,613.7 1525.8,618 1531.3,621.8 1536.9,623.5 1542.4,624.8 1547.7,626.4 1553.2,627.8 1559.2,629.1" fill="none" stroke="#ee1659" stroke-width="1.8" stroke-linejoin="round" stroke-linecap="round"/>
<polyline points="76.6,655.1 83.1,647.1 88.7,651.7 93.9,653.1 99.7,659.4 105.3,663.3 110.8,665.7 116.1,667.4 121.2,659.7 127,658 132.7,663.3 137.8,668.8 143.5,670.5 148.4,671 154.1,667.9 159.5,665.4 164.8,668.8 170.8,650.8 176.3,653.9 181.8,657.2 187.1,659.4 192.5,663.3 198.2,667.9 203.7,667.1 209.1,666.8 214.4,665 219.9,667.9 225.4,665.7 231,658.9 236.5,660.8 241.8,662.5 247.6,665 252.9,662.8 258.4,653.9 263.9,644.3 269.5,637.7 275.2,640.6 280.3,642 285.8,645.7 291.2,649.1 296.9,640.2 302.3,626.9 308,629.5 313.1,629.5 318.8,634.3 324.2,639.4 329.7,640.2 335.4,652.6 340.5,655.5 346,657.7 351.6,661.6 357.1,665.4 362.7,669.3 368.2,667.6 373.7,669.1 379.3,671 384.8,673.9 390.5,676.8 395.9,679.1 401.2,682 406.7,683.3 412.2,685.1 417.8,680.4 423.3,681.1 428.6,683.3 434.1,686.8 439.5,688 444.8,688.8 450.3,685.1 456,678.7 461.4,681.1 466.9,678.6 472.5,679.9 478,678.2 483.3,680.3 488.8,682 494.4,685.4 499.9,688.5 505.4,691.9 510.7,693.1 516.2,684.5 521.8,673.9 527.3,677.4 532.9,679.9 538.4,681.1 543.9,682.5 549.5,684.5 555,683 560.3,655.1 565.8,650.8 571.2,649.1 576.9,652.2 582.3,656 587.6,658.2 593.1,655.1 598.8,647.9 604.2,650.3 609.7,648.6 615.4,651.7 620.5,654.6 626,658.9 631.6,644 637.1,645.7 642.7,645.4 648.2,649.1 653.7,653.1 659,656.5 664.5,650 669.9,653.1 675.2,656.3 680.7,650.8 686.4,645.7 691.8,650.8 697.3,652.9 702.9,650.3 708.4,650 713.7,654.8 719.2,654.8 724.7,659.7 730.3,664.5 735.8,669.3 741.4,672.7 746.9,675.1 752.2,678.2 757.7,680.8 763.3,683 768.8,685.1 774.3,686.8 779.9,686.4 785.4,688.5 790.7,690.5 796.2,692.4 801.8,692.4 807.3,693.3 812.7,693.6 818.4,687.6 823.9,685.6 829.3,684.5 834.8,685.4 840.3,674.3 845.8,677 851.2,680.3 856.9,682.8 862.3,685.6 867.6,686.8 873.1,687.3 878.8,682.1 884.2,681.6 889.7,682.8 895.4,683.7 900.5,684.2 906,687.1 911.6,675.6 917.1,677.4 922.6,678.7 928.2,680.4 933.7,681.3 939,678.7 944.5,678.2 949.9,679.4 955.2,677.7 960.7,681.6 966.4,682.1 971.8,683 977.3,680.8 982.9,673.9 988.4,660.3 993.7,657.7 999.2,659.1 1004.7,659.1 1010.3,661.6 1015.8,664 1021.1,669.7 1026.6,668.8 1032.2,669.7 1037.7,671.7 1043.3,674.4 1048.8,676.8 1054.3,679.4 1059.6,642.6 1065,645.2 1070.7,647.8 1076.2,650.5 1081.8,650.8 1087.3,652.2 1092.7,651.7 1098.4,655.5 1103.9,665 1109.3,668.5 1114.8,671.4 1120.3,673.9 1125.8,668.8 1131.2,667.1 1136.9,667.9 1142.3,671 1147.6,673.9 1153.1,676.2 1158.8,667.1 1164.2,668.3 1169.7,670.2 1175.4,672.2 1180.5,666.2 1186,661.4 1191.6,658.2 1197.1,655.1 1202.2,656.8 1207.9,659.1 1213.4,661.6 1218.8,665 1224.1,640.6 1229.6,640.9 1235.1,644.9 1240.7,630.8 1246.2,635.8 1251.8,639.4 1257.3,639.4 1262.6,640.6 1268.1,638.5 1273.6,627.8 1279.2,637.7 1284.7,644 1290,631.7 1295.8,628.6 1301.1,630 1306.6,634.9 1312,639.4 1317.3,637.2 1323.2,628.1 1328.5,629.8 1333.9,633.7 1339.4,646.9 1344.7,651.7 1350.5,649.6 1355.8,650.8 1361.3,653.9 1366.9,657.2 1372.4,658 1377.9,659.7 1383.5,649.6 1388.7,646.6 1394.3,649.1 1399.8,651.7 1405.2,655.5 1410.9,649.1 1416.4,647.1 1421.7,639.2 1427.1,641.4 1432.6,644.5 1438.3,638.4 1443.7,642.6 1449,646.1 1454.5,644.9 1460,649.1 1465.6,653.1 1471.1,656 1476.7,653.9 1482.2,650.8 1487.7,654.3 1493,657.2 1498.5,659.4 1503.9,662.8 1509.2,665.7 1515.1,670.2 1520.4,673.6 1525.8,674.8 1531.3,675.6 1536.9,664.9 1542.4,667.6 1547.7,670.2 1553.2,670.5 1559.2,672.2" fill="none" stroke="#2962ff" stroke-width="1.8" stroke-linejoin="round" stroke-linecap="round"/>
<polyline points="76.6,680.8 83.1,683.3 88.2,679.9 93.9,683 99.3,682.8 104.8,677.7 110.5,679.1 116.1,680.4 121.6,682.8 127,684.2 132.7,677 137.8,659.7 143.5,661.1 148.4,663.2 154.1,666.2 159.5,668.3 164.8,666.6 170.8,676.8 176.3,678.2 181.8,674.4 187.1,672.7 192.5,665.4 198.2,658.2 203.7,664 209.1,665 214.4,666.8 219.9,664.5 225.4,668.3 231,671.4 236.5,673.1 241.8,670.5 247.6,670 252.9,671.9 258.4,674.8 263.9,679.1 269.5,681.6 275.2,683 280.3,684.5 285.8,680.4 291.2,679.9 296.9,683.3 302.3,687.1 308,688.1 313.1,689.7 318.8,683.7 324.2,682.8 329.7,684.7 335.4,656.3 340.5,658.5 346,660.3 351.6,653.8 357.1,650.8 362.7,643.5 368.2,650.8 373.7,652.9 379.3,654.3 384.8,651.2 390.5,644 395.9,640.6 401.2,638 406.7,641.8 412.2,640.9 417.8,645.7 423.3,650.3 428.6,648.3 434.1,635.1 439.5,638.4 444.8,640.6 450.3,644.9 456,650.5 461.4,654.6 466.9,660.3 472.5,662.3 478,664.2 483.3,662.8 488.8,665.4 494.4,658.9 499.9,645.2 505.4,638.9 510.7,643.1 516.2,647.8 521.8,652.6 527.3,656 532.9,657.7 538.4,659.7 543.9,658.9 549.5,658.5 555,662.3 560.3,671 565.8,673.6 571.2,676.5 576.9,678.6 582.3,676.5 587.6,678.2 593.1,680.4 598.8,682.5 604.2,683.3 609.7,684.2 615.4,683 620.5,679.6 626,668.3 631.6,672.7 637.1,673.6 642.7,674.8 648.2,671 653.7,666.8 659,662.8 664.5,666.2 669.9,668.8 675.2,668.8 680.7,672.2 686.4,677 691.8,679.9 697.3,682.8 702.9,685.1 708.4,687.6 713.7,683.7 719.2,685.9 724.7,681.1 730.3,683.7 735.8,683 741.4,685.4 746.9,678.6 752.2,672.7 757.7,666.6 763.3,667.9 768.8,670.2 774.3,672.6 779.9,674.3 785.4,673.6 790.7,672.2 796.2,672.6 801.8,673.4 807.3,672.7 812.7,674.8 818.4,677.7 823.9,679.4 829.3,681.6 834.8,678.7 840.3,681.6 845.8,682.8 851.2,673.6 856.9,676.5 862.3,670.2 867.6,671.7 873.1,672.7 878.8,675.3 884.2,677 889.7,674.3 895.4,676.5 900.5,677.7 906,670 911.6,673.1 917.1,675.6 922.6,676.2 928.2,667.9 933.7,667.1 939,669.7 944.5,672.2 949.9,673.9 955.2,676.2 960.7,663.2 966.4,662 971.8,660.6 977.3,663.3 982.9,666.2 988.4,671.4 993.7,673.6 999.2,675.1 1004.7,677.9 1010.3,675.1 1015.8,672.2 1021.1,666.2 1026.6,668.5 1032.2,670.5 1037.7,670.2 1043.3,664.9 1048.8,664.2 1054.3,662.5 1059.6,675.6 1065,677.4 1070.7,672.7 1076.2,670.2 1081.8,671.4 1087.3,673.9 1092.7,677 1098.4,679.6 1103.9,672.2 1109.3,675.1 1114.8,674.3 1120.3,677.4 1125.8,680.3 1131.2,682.5 1136.9,683.3 1142.3,670.5 1147.6,672.7 1153.1,675.1 1158.8,679.1 1164.2,680.3 1169.7,680.3 1175.4,674.3 1180.5,677 1186,679.6 1191.6,683.3 1197.1,684.7 1202.2,683.9 1207.9,678.6 1213.4,679.1 1218.8,678.7 1224.1,684.7 1229.6,686.4 1235.1,688 1240.7,692.4 1246.2,694.1 1251.8,693.9 1257.3,694.8 1262.6,695 1268.1,695.8 1273.6,698.2 1279.2,693.1 1284.7,694.8 1290,697.5 1295.8,698.7 1301.1,699.9 1306.6,700.4 1312,698.7 1317.3,699.6 1323.2,700.8 1328.5,701.8 1333.9,697 1339.4,672.6 1344.7,675.1 1350.5,677.4 1355.8,679.9 1361.3,681.6 1366.9,681.6 1372.4,683 1377.9,684.7 1383.5,688.1 1388.7,690.2 1394.3,691.4 1399.8,692.2 1405.2,688 1410.9,690.2 1416.4,691.6 1421.7,693.1 1427.1,693.6 1432.6,692.2 1438.3,693.3 1443.7,694.8 1449,695.8 1454.5,698.2 1460,698.2 1465.6,695.8 1471.1,697 1476.7,697.5 1482.2,698.2 1487.7,697.5 1493,696.2 1498.5,696.7 1503.9,692.4 1509.2,688 1515.1,683 1520.4,685.4 1525.8,686.2 1531.3,687.3 1536.9,689 1542.4,690.2 1547.7,689.7 1553.2,690.5 1559.2,691.4" fill="none" stroke="#f57406" stroke-width="1.8" stroke-linejoin="round" stroke-linecap="round"/>
<text x="1624.6" y="75.4" font-family="Liberation Sans, sans-serif" font-size="11.4" fill="#dcdcdc" stroke="#dcdcdc" stroke-width="0.3" textLength="47.8" lengthAdjust="spacingAndGlyphs">3,675.000</text>
<!-- AFTER badge -->
<rect x="1425.3" y="2.2" width="247.7" height="75.6" rx="3" fill="#000" opacity="0.18" filter="url(#sh)"/>
<rect x="1425.3" y="1" width="247.7" height="75.2" rx="2.5" fill="url(#ag)"/>
<rect x="1425.3" y="74.2" width="247.7" height="2" rx="1" fill="#86bd1c" opacity="0.7"/>
<text y="52.9" font-family="Liberation Sans, sans-serif" font-size="41.0" fill="#ececec" stroke="#ececec" stroke-width="1.3" stroke-linejoin="round" filter="url(#rnd)"><tspan x="1488.57" textLength="26.35" lengthAdjust="spacingAndGlyphs">A</tspan><tspan x="1515.88" textLength="22.87" lengthAdjust="spacingAndGlyphs">F</tspan><tspan x="1539.75" textLength="21.82" lengthAdjust="spacingAndGlyphs">T</tspan><tspan x="1562.43" textLength="22.89" lengthAdjust="spacingAndGlyphs">E</tspan><tspan x="1585.89" textLength="25.18" lengthAdjust="spacingAndGlyphs">R</tspan></text>
</svg>
</body></html>
